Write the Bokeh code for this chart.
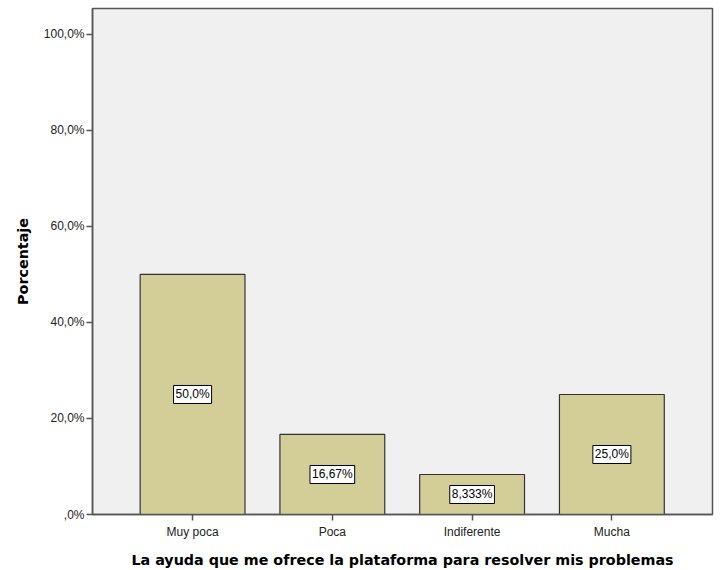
from bokeh.plotting import figure
from bokeh.models import ColumnDataSource, Label, FixedTicker, Range1d
from bokeh.embed import file_html
from bokeh.resources import INLINE

categories = ["Muy poca", "Poca", "Indiferente", "Mucha"]
values = [50.0, 16.67, 8.333, 25.0]
value_labels = ["50,0%", "16,67%", "8,333%", "25,0%"]
y_ticks = [0, 20, 40, 60, 80, 100]
y_tick_labels = [",0%", "20,0%", "40,0%", "60,0%", "80,0%", "100,0%"]

xs = list(range(1, len(categories) + 1))
source = ColumnDataSource(dict(x=xs, top=values, cat=categories))

p = figure(width=720, height=570, output_backend="svg", toolbar_location=None,
           x_range=Range1d(0.284, 4.72), y_range=Range1d(0, 105.4),
           min_border_left=92, min_border_right=8, min_border_top=8, min_border_bottom=10)

p.background_fill_color = "#F0F0F0"
p.border_fill_color = "white"
p.outline_line_color = "#555555"
p.outline_line_width = 1.5
p.grid.visible = False

p.vbar(x="x", top="top", bottom=0, width=0.75, source=source,
       fill_color="#D3CE97", line_color="#333333", line_width=1.2)

for xv, v, lab in zip(xs, values, value_labels):
    p.add_layout(Label(x=xv, y=v / 2, text=lab,
                       text_align="center", text_baseline="middle",
                       text_font="Liberation Sans", text_font_size="12px",
                       text_color="black",
                       background_fill_color="white", border_line_color="black",
                       border_line_width=1, padding=2))

p.yaxis.ticker = FixedTicker(ticks=y_ticks)
p.yaxis.major_label_overrides = {t: l for t, l in zip(y_ticks, y_tick_labels)}
p.xaxis.ticker = FixedTicker(ticks=xs)
p.xaxis.major_label_overrides = {x: c for x, c in zip(xs, categories)}

for ax in (p.xaxis, p.yaxis):
    ax.axis_line_color = "#555555"
    ax.axis_line_width = 1.5
    ax.major_tick_line_color = "#555555"
    ax.major_tick_line_width = 1.5
    ax.major_tick_in = 0
    ax.major_tick_out = 6
    ax.minor_tick_line_color = None
    ax.major_label_text_font = "Liberation Sans"
    ax.major_label_text_font_size = "12px"
    ax.major_label_text_color = "#222222"
    ax.axis_label_text_font = "DejaVu Sans"
    ax.axis_label_text_font_style = "bold"
    ax.axis_label_text_font_size = "14.3px"
    ax.axis_label_text_color = "black"

p.xaxis.axis_label = "La ayuda que me ofrece la plataforma para resolver mis problemas"
p.yaxis.axis_label = "Porcentaje"
p.yaxis.major_label_standoff = 2
p.xaxis.major_label_standoff = 4
p.xaxis.axis_label_standoff = 10
p.yaxis.axis_label_standoff = 10

open("out.html", "w").write(file_html(p, INLINE))
